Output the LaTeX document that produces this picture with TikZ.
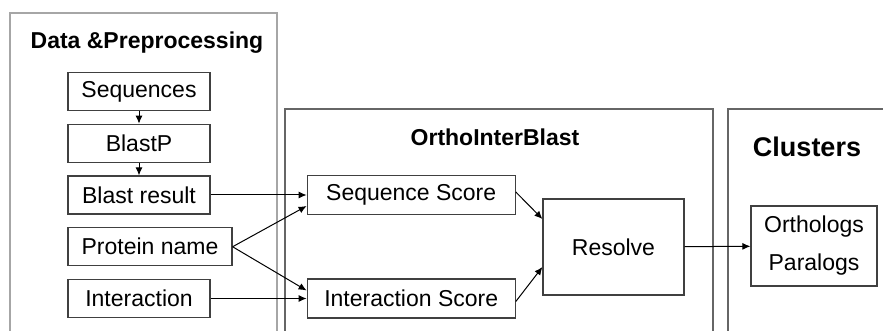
\documentclass[tikz,border=0pt]{standalone}
\usepackage{fontspec}
\setmainfont{Liberation Sans}
\usetikzlibrary{positioning, arrows.meta}
\tikzstyle{panel} = [draw=black!60, line width=1.3pt]
\tikzstyle{title} = [draw=none, text centered, font=\fontsize{23}{27}\selectfont\bfseries]
\tikzstyle{process} = [rectangle, minimum width=142pt, minimum height=38pt, text centered, draw=black!75, line width=1.2pt, font=\fontsize{23}{27}\selectfont]
\tikzstyle{score} = [process, minimum width=208pt, minimum height=39pt]
\tikzstyle{arrow} = [line width=1pt, -{Latex[length=8pt,width=7pt]}]

\begin{document}
\begin{tikzpicture}[x=1pt, y=1pt, node distance=51.75pt]
		\useasboundingbox (0,0) rectangle (883,-331);
		% panels
		\draw [panel, draw=black!35] (10,-340) -- (10,-13) -- (277,-13) -- (277,-340);
		\draw [panel] (285,-340) -- (285,-109) -- (713,-109) -- (713,-340);
		\draw [panel] (728,-340) -- (728,-109) -- (890,-109);
		
		\node (datatitle) [title] at (147,-43) {Data \&Preprocessing};
		\node (seq) [process] at (139,-91.5) {Sequences};
		\node (blastp) [process, below of=seq] {BlastP};
		\node (blast) [process, below of=blastp] {Blast result};
		\node (prot) [process, below of=blast, minimum width=164pt, xshift=11pt] {Protein name};
		\node (inter) [process, below of=prot, xshift=-11pt] {Interaction};
		\draw [arrow] (seq) -- (blastp);
		\draw [arrow] (blastp) -- (blast);
		
		\node (oibtitle) [title] at (495,-137) {OrthoInterBlast};
		\node (seqscore) [score, right=96pt of blast] {Sequence Score};
		\node (intscore) [score, right=96pt of inter] {Interaction Score};
		\node (resolve) [process, minimum width=141pt, minimum height=96pt] at (613.5,-247) {Resolve};
		\draw [arrow] (blast) -- (seqscore);
		\draw [arrow] (prot.east) -- ([yshift=-11pt]seqscore.west);
		\draw [arrow] (prot.east) -- ([yshift=8pt]intscore.west);
		\draw [arrow] (inter) -- (intscore);
		\draw [arrow] ([yshift=3pt]seqscore.east) -- ([yshift=28pt]resolve.west);
		\draw [arrow] ([yshift=-3pt]intscore.east) -- ([yshift=-20pt]resolve.west);
		
		\node (clustitle) [title, font=\fontsize{27}{32}\selectfont\bfseries] at (807,-147) {Clusters};
		\node (clus) [process, minimum width=126pt, minimum height=80pt, align=center, font=\fontsize{23}{38}\selectfont] at (814,-246) {Orthologs\\Paralogs};
		\draw [arrow] (resolve) -- (clus);
	\end{tikzpicture}
\end{document}
